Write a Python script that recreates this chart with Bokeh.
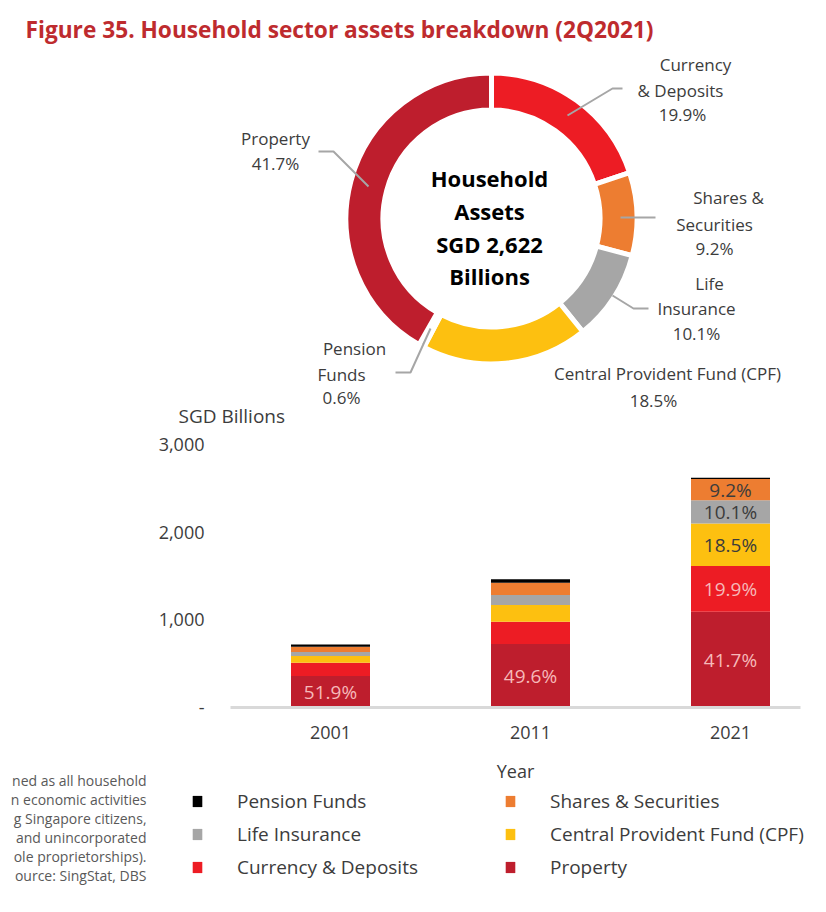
import numpy as np
from bokeh.plotting import figure
from bokeh.models import (ColumnDataSource, Range1d, FixedTicker, Legend, LegendItem,
                          LinearAxis)
from bokeh.embed import file_html
from bokeh.resources import INLINE
from bokeh.core.properties import value

# ---------------- data ----------------
title_text = "Figure 35. Household sector assets breakdown (2Q2021)"
center_lines = ["Household", "Assets", "SGD 2,622", "Billions"]

donut_categories = ["Currency & Deposits", "Shares & Securities", "Life Insurance",
                    "Central Provident Fund (CPF)", "Pension Funds", "Property"]
donut_pct = [19.9, 9.2, 10.1, 18.5, 0.6, 41.7]

years = [2001, 2011, 2021]
year_labels = ["2001", "2011", "2021"]
property_vals = [360, 725, 1093]
currency_vals = [150, 254, 522]
cpf_vals = [78, 190, 485]
life_vals = [46, 114, 265]
shares_vals = [60, 140, 241]
pension_vals = [26, 40, 16]

y_ticks = [0, 1000, 2000, 3000]
y_tick_labels = ["-", "1,000", "2,000", "3,000"]

property_pct_labels = ["51.9%", "49.6%", "41.7%"]
latest_pct_labels = ["19.9%", "18.5%", "10.1%", "9.2%"]   # currency, cpf, life, shares (2021)

footnote_lines = ["ned as all household", "n economic activities", "g Singapore citizens,",
                  "and unincorporated", "ole proprietorships).", "ource: SingStat, DBS"]

# ---------------- styles / layout constants (page pixels) ----------------
C_PROPERTY = "#BE1E2D"
C_CURRENCY = "#ED1C24"
C_CPF = "#FDC010"
C_LIFE = "#A6A6A6"
C_SHARES = "#ED7D31"
C_PENSION = "#000000"
color_of = {"Currency & Deposits": C_CURRENCY, "Shares & Securities": C_SHARES,
            "Life Insurance": C_LIFE, "Central Provident Fund (CPF)": C_CPF,
            "Pension Funds": C_PENSION, "Property": C_PROPERTY}
TXT = "#3C3C3C"
FONT = "Open Sans"
W, H = 820, 904
PX0, PY0 = 0, 0                      # page offset of the canvas (as observed)

# bar-chart geometry: year -> page x, value -> page y
X_2001, PX_PER_YEAR = 330, 20.0
Y_ZERO, PX_PER_UNIT = 707, 263.0 / 3000
BAR_X0, BAR_X1 = 1996, 2024.5

yr_start = years[0] + (PX0 - X_2001) / PX_PER_YEAR
yr_end = years[0] + (PX0 + W - X_2001) / PX_PER_YEAR
v_end = (Y_ZERO - PY0) / PX_PER_UNIT
v_start = (Y_ZERO - (PY0 + H)) / PX_PER_UNIT

p = figure(width=W, height=H, x_range=Range1d(PX0, PX0 + W), y_range=Range1d(-(PY0 + H), -PY0),
           x_axis_type=None, y_axis_type=None, output_backend="svg", toolbar_location=None,
           min_border=0)
p.extra_x_ranges = {"years": Range1d(yr_start, yr_end)}
p.extra_y_ranges = {"bars": Range1d(v_start, v_end)}
p.grid.visible = False
p.outline_line_color = None

# ---------------- title ----------------
p.text(x=[25], y=[-29], text=[title_text], text_font=value(FONT), text_font_style="bold",
       text_font_size="22.7px", text_color="#BE2B2E", text_align="left", text_baseline="middle")

# ---------------- donut ----------------
cx, cy = 491, -218
cum = np.cumsum([0] + donut_pct)
starts = np.pi / 2 - cum[:-1] / 100 * 2 * np.pi
ends = np.pi / 2 - cum[1:] / 100 * 2 * np.pi
dsrc = ColumnDataSource(dict(x=[cx] * len(donut_pct), y=[cy] * len(donut_pct),
                             start=starts, end=ends,
                             color=[color_of[c] for c in donut_categories]))
p.annular_wedge(x="x", y="y", inner_radius=108.5, outer_radius=145.5, start_angle="start",
                end_angle="end", direction="clock", fill_color="color", line_color="white",
                line_width=5, source=dsrc)

lead_xs = [[567, 612, 622], [620, 655], [612, 633, 648], [318, 333, 368], [430, 410, 395]]
lead_ys = [[115, 88, 88], [217, 217], [295, 308, 308], [151, 151, 186], [328, 372, 372]]
p.multi_line(xs=lead_xs, ys=[[-v for v in ys] for ys in lead_ys], line_color="#A6A6A6",
             line_width=2)

lab_text = ["Currency", "& Deposits", "19.9%",
            "Shares &", "Securities", "9.2%",
            "Life", "Insurance", "10.1%",
            "Central Provident Fund (CPF)", "18.5%",
            "Property", "41.7%",
            "Pension", "Funds", "0.6%"]
lab_x = [695, 680, 682, 728, 714, 714, 709, 696, 696, 667, 653, 275, 275, 354, 341, 341]
lab_y = [64, 90, 114, 197, 224, 248, 283, 308, 333, 373, 400, 138, 163, 348, 374, 397]
p.text(x=lab_x, y=[-v for v in lab_y], text=lab_text, text_font=value(FONT),
       text_font_size="17px", text_color=TXT, text_align="center", text_baseline="middle")

p.text(x=[489] * 4, y=[-177, -210, -243, -275], text=center_lines, text_font=value(FONT),
       text_font_style="bold", text_font_size="22px", text_color="#000000",
       text_align="center", text_baseline="middle")

p.text(x=[178], y=[-415], text=["SGD Billions"], text_font=value(FONT), text_font_size="19px",
       text_color=TXT, text_align="left", text_baseline="middle")

# ---------------- stacked bars ----------------
stack_keys = ["property", "currency", "cpf", "life", "shares", "pension"]
stack_colors = [C_PROPERTY, C_CURRENCY, C_CPF, C_LIFE, C_SHARES, C_PENSION]
bsrc = ColumnDataSource(dict(year=years, property=property_vals, currency=currency_vals,
                             cpf=cpf_vals, life=life_vals, shares=shares_vals,
                             pension=pension_vals))
rends = p.vbar_stack(stack_keys, x="year", width=3.95, fill_color=stack_colors,
                     line_color=None, source=bsrc, x_range_name="years", y_range_name="bars")
rmap = dict(zip(stack_keys, rends))

stack = np.array([property_vals, currency_vals, cpf_vals, life_vals, shares_vals, pension_vals],
                 dtype=float)
tops = np.cumsum(stack, axis=0)
mids = tops - stack / 2

p.text(x=years, y=list(mids[0]), text=property_pct_labels, text_font=value(FONT),
       text_font_size="19px", text_color="#F6B9B9", text_align="center",
       text_baseline="middle", x_range_name="years", y_range_name="bars")
p.text(x=[years[2]] * 4, y=[mids[1][2], mids[2][2], mids[3][2], mids[4][2]],
       text=latest_pct_labels, text_font=value(FONT), text_font_size="19px",
       text_color=["#F6B9B9", TXT, TXT, TXT], text_align="center", text_baseline="middle",
       x_range_name="years", y_range_name="bars")

# ---------------- axes pinned at the bar-chart origin ----------------
yax = LinearAxis(x_range_name="years", y_range_name="bars", fixed_location=BAR_X0,
                 ticker=FixedTicker(ticks=y_ticks), bounds=(0, 3000))
yax.major_label_overrides = dict(zip(y_ticks, y_tick_labels))
yax.axis_line_color = None
yax.major_tick_line_color = None
yax.minor_tick_line_color = None
yax.major_tick_out = 0
yax.major_tick_in = 0
yax.major_label_standoff = 26
yax.major_label_text_font = FONT
yax.major_label_text_font_size = "18px"
yax.major_label_text_color = TXT
p.add_layout(yax, "left")

xax = LinearAxis(x_range_name="years", y_range_name="bars", fixed_location=0,
                 ticker=FixedTicker(ticks=years), bounds=(BAR_X0, BAR_X1))
xax.major_label_overrides = dict(zip(years, year_labels))
xax.axis_line_color = "#D9D9D9"
xax.axis_line_width = 3
xax.major_tick_line_color = None
xax.minor_tick_line_color = None
xax.major_tick_out = 0
xax.major_tick_in = 0
xax.major_label_standoff = 18
xax.major_label_text_font = FONT
xax.major_label_text_font_size = "18px"
xax.major_label_text_color = TXT
xax.axis_label = "Year"
xax.axis_label_standoff = 17
xax.axis_label_text_font = FONT
xax.axis_label_text_font_style = "normal"
xax.axis_label_text_font_size = "18px"
xax.axis_label_text_color = TXT
p.add_layout(xax, "below")

# ---------------- legend (column-major: left column first) ----------------
legend_order = [("Pension Funds", "pension"), ("Life Insurance", "life"),
                ("Currency & Deposits", "currency"), ("Shares & Securities", "shares"),
                ("Central Provident Fund (CPF)", "cpf"), ("Property", "property")]
legend = Legend(items=[LegendItem(label=l, renderers=[rmap[k]]) for l, k in legend_order],
                orientation="vertical", nrows=3, location=(191 - PX0, (PY0 + H) - 880),
                glyph_width=12, glyph_height=14, label_standoff=34, label_width=260,
                label_height=26, spacing=7, padding=0, margin=0,
                border_line_color=None, background_fill_alpha=0,
                label_text_font=FONT, label_text_font_size="19px", label_text_color=TXT)
p.add_layout(legend)

# ---------------- footnote (cut at the left edge in the source) ----------------
foot_y = [780 + i * 19 for i in range(len(footnote_lines))]
p.text(x=[146] * len(footnote_lines), y=[-v for v in foot_y], text=footnote_lines,
       text_font=value(FONT), text_font_size="14px", text_color="#595959",
       text_align="right", text_baseline="middle")

open("out.html", "w").write(file_html(p, INLINE))
